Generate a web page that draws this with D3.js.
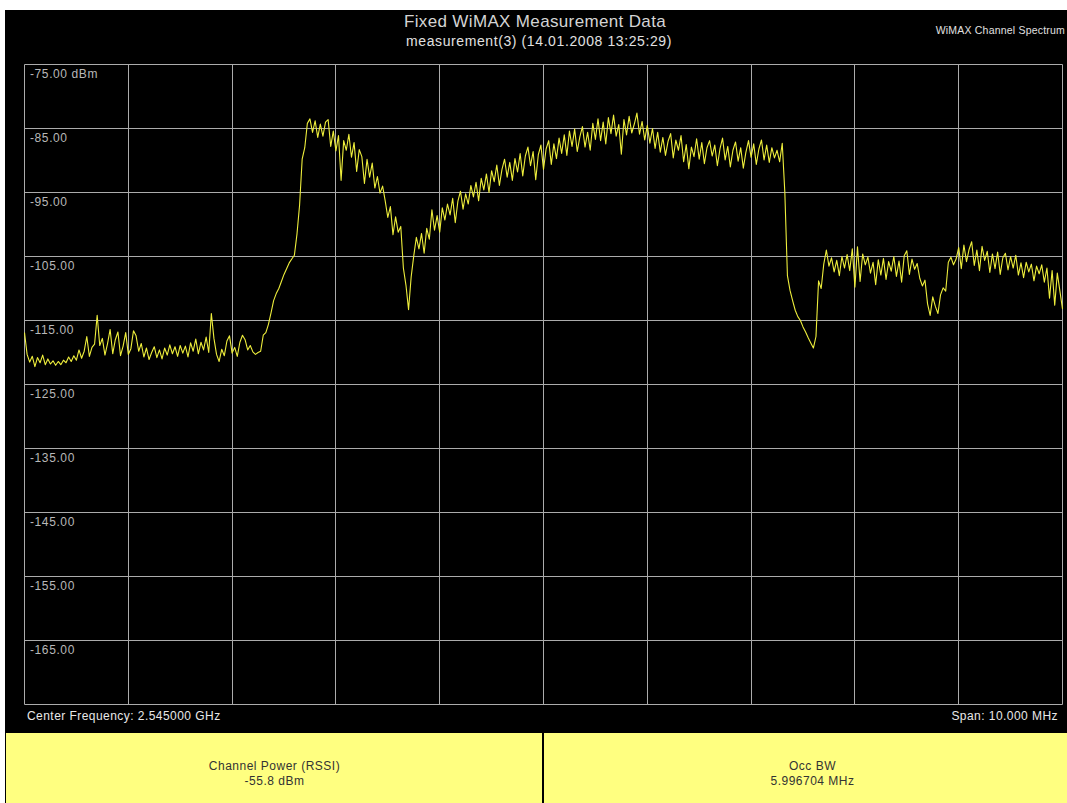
<!DOCTYPE html>
<html>
<head>
<meta charset="utf-8">
<script src="https://cdn.jsdelivr.net/npm/d3@7"></script>
<style>
  html, body { margin: 0; padding: 0; background: #ffffff; }
  svg { display: block; }
  text { font-family: "Liberation Sans", Arial, sans-serif; }
</style>
</head>
<body>
<svg id="chart" width="1067" height="803"></svg>
<script>
// Sweep settings
const centerFreqMHz = 2545;
const spanMHz = 10;

// Reference level and grid rows (dBm)
const levelTicks = [-75, -85, -95, -105, -115, -125, -135, -145, -155, -165, -175];
const levelLabels = ["-75.00 dBm", "-85.00", "-95.00", "-105.00", "-115.00", "-125.00",
                     "-135.00", "-145.00", "-155.00", "-165.00"];

// Measured trace, dBm, 401 sweep points across the span
const traceDbm = [
  -116.9,-120.3,-121.5,-120.6,-122.2,-120.8,-121.6,-120.4,-121.9,-121.0,
  -121.8,-121.3,-122.0,-121.4,-121.9,-121.2,-121.6,-120.7,-121.4,-120.5,
  -121.2,-119.6,-120.9,-119.8,-117.5,-120.6,-119.2,-118.7,-114.2,-118.9,
  -117.8,-120.4,-118.6,-116.4,-120.2,-118.0,-116.8,-120.5,-119.0,-116.9,
  -120.3,-119.4,-116.6,-117.4,-119.8,-118.6,-120.7,-119.3,-121.1,-120.0,
  -119.1,-120.8,-119.6,-121.0,-119.3,-120.4,-118.8,-120.2,-119.1,-120.6,
  -118.9,-120.1,-119.0,-120.7,-118.5,-119.8,-117.9,-120.2,-118.4,-119.6,
  -117.6,-120.0,-113.9,-117.8,-120.3,-121.4,-119.5,-120.5,-118.2,-117.4,
  -120.1,-119.2,-120.6,-118.4,-117.3,-118.0,-119.6,-118.9,-119.9,-120.3,
  -120.0,-119.8,-117.3,-116.9,-115.6,-113.8,-111.9,-110.8,-110.0,-108.9,
  -107.8,-106.9,-106.0,-105.4,-104.8,-101.5,-97.0,-89.8,-88.0,-84.2,
  -83.5,-85.6,-83.8,-86.4,-84.3,-86.2,-84.0,-83.6,-87.8,-85.4,
  -88.5,-86.1,-93.1,-86.9,-88.4,-85.9,-89.5,-87.2,-91.7,-88.3,
  -89.4,-93.6,-89.8,-92.6,-90.4,-94.3,-92.5,-95.1,-94.0,-96.3,
  -98.9,-97.2,-101.6,-98.8,-101.2,-100.3,-106.8,-109.5,-113.3,-108.2,
  -104.9,-102.0,-103.8,-101.4,-104.5,-100.6,-102.3,-97.7,-100.9,-98.6,
  -101.2,-97.4,-99.3,-96.8,-98.5,-95.9,-99.7,-96.4,-94.8,-97.6,
  -95.2,-96.8,-93.9,-95.7,-93.4,-96.3,-92.8,-94.6,-92.1,-95.0,
  -91.6,-93.3,-90.7,-93.9,-91.4,-89.8,-92.6,-90.3,-93.1,-89.7,
  -91.8,-88.9,-92.4,-89.3,-87.9,-90.8,-88.6,-93.0,-89.1,-87.6,
  -91.4,-88.2,-86.9,-90.6,-87.4,-89.7,-86.5,-88.9,-86.0,-89.2,
  -85.4,-87.8,-85.1,-88.6,-86.3,-84.7,-87.9,-85.6,-88.4,-84.2,
  -86.7,-83.5,-86.9,-84.0,-87.4,-83.3,-85.8,-82.9,-86.2,-84.4,
  -89.0,-83.6,-86.0,-83.1,-85.7,-84.3,-82.6,-85.9,-83.9,-86.8,
  -84.5,-87.3,-85.0,-88.1,-85.6,-88.7,-86.4,-89.2,-87.0,-85.8,
  -89.6,-86.8,-88.4,-86.1,-90.2,-87.5,-91.3,-87.9,-89.4,-86.6,
  -89.8,-87.2,-90.5,-88.0,-86.9,-89.3,-87.6,-90.8,-88.2,-86.5,
  -89.9,-87.8,-91.0,-88.4,-87.1,-90.1,-88.0,-91.2,-88.7,-86.9,
  -89.5,-87.4,-90.6,-88.2,-86.8,-89.9,-87.6,-90.3,-88.0,-89.6,
  -88.4,-90.2,-87.3,-95.0,-108.0,-110.3,-111.9,-113.4,-114.4,-115.0,
  -116.0,-116.8,-117.7,-118.5,-119.3,-117.5,-108.8,-110.0,-106.2,-104.0,
  -106.5,-105.2,-107.4,-105.6,-108.0,-105.0,-106.8,-104.7,-107.2,-103.8,
  -109.8,-103.5,-108.9,-104.6,-106.3,-105.1,-107.6,-105.9,-109.4,-105.5,
  -107.9,-105.3,-108.6,-105.8,-107.3,-105.0,-108.1,-105.7,-109.0,-104.9,
  -104.1,-107.8,-105.4,-107.0,-106.1,-108.4,-109.6,-108.7,-112.4,-114.2,
  -111.3,-112.8,-113.9,-111.0,-109.9,-110.4,-105.9,-105.1,-106.3,-105.4,
  -103.6,-106.9,-103.2,-105.8,-103.9,-102.7,-106.4,-104.0,-107.2,-103.4,
  -105.6,-104.2,-107.5,-104.6,-106.9,-104.3,-107.8,-105.2,-104.5,-107.1,
  -105.0,-106.8,-104.8,-107.9,-106.0,-108.3,-105.9,-107.4,-106.2,-108.8,
  -106.5,-107.7,-106.3,-109.0,-106.8,-111.5,-107.2,-112.6,-107.6,-110.4,
  -113.2
];

// Result panels below the trace
const resultNames = ["Channel Power (RSSI)", "Occ BW"];
const resultValues = ["-55.8 dBm", "5.996704 MHz"];

const svg = d3.select("#chart");
const W = 1067, H = 803;

const plot = { left: 24.5, right: 1062.5, top: 64.5, bottom: 704.5 };
const startFreq = centerFreqMHz - spanMHz / 2;
const stopFreq = centerFreqMHz + spanMHz / 2;

const x = d3.scaleLinear().domain([startFreq, stopFreq]).range([plot.left, plot.right]);
const y = d3.scaleLinear().domain([-175, -75]).range([plot.bottom, plot.top]);
const freqStep = spanMHz / (traceDbm.length - 1);

// Instrument screen background
svg.append("rect").attr("x", 5).attr("y", 10).attr("width", W - 5).attr("height", 723).attr("fill", "#000");

// Titles
svg.append("text").attr("x", 535).attr("y", 27).attr("text-anchor", "middle")
  .attr("font-size", 17).attr("letter-spacing", 0.35).attr("fill", "#d4d4d4").text("Fixed WiMAX Measurement Data");
svg.append("text").attr("x", 539).attr("y", 46).attr("text-anchor", "middle")
  .attr("font-size", 14).attr("letter-spacing", 0.6).attr("fill", "#e0e0e0").text("measurement(3) (14.01.2008 13:25:29)");
svg.append("text").attr("x", 1065).attr("y", 34).attr("text-anchor", "end")
  .attr("font-size", 10.5).attr("letter-spacing", 0.2).attr("fill", "#e0e0e0").text("WiMAX Channel Spectrum");

// Grid
const gridColor = "#ababab";
const grid = svg.append("g");
const freqTicks = d3.range(0, 11).map(k => startFreq + k * spanMHz / 10);
grid.selectAll("line.v").data(freqTicks).join("line")
  .attr("x1", d => Math.round(x(d) - 0.5) + 0.5).attr("x2", d => Math.round(x(d) - 0.5) + 0.5)
  .attr("y1", plot.top).attr("y2", plot.bottom)
  .attr("stroke", gridColor).attr("stroke-width", 1);
grid.selectAll("line.h").data(levelTicks).join("line")
  .attr("y1", d => Math.round(y(d) - 0.5) + 0.5).attr("y2", d => Math.round(y(d) - 0.5) + 0.5)
  .attr("x1", plot.left).attr("x2", plot.right)
  .attr("stroke", gridColor).attr("stroke-width", 1);

// Level labels, written just under each grid row
svg.append("g").selectAll("text").data(levelLabels).join("text")
  .attr("x", 30).attr("y", (d, i) => y(levelTicks[i]) + 13)
  .attr("font-size", 12).attr("letter-spacing", 0.6).attr("fill", "#b8b8b8").text(d => d);

// Trace
const line = d3.line()
  .x((d, i) => x(startFreq + i * freqStep))
  .y(d => y(d));
svg.append("path").datum(traceDbm)
  .attr("d", line).attr("fill", "none")
  .attr("stroke", "#eeee3c").attr("stroke-width", 1.1).attr("stroke-linejoin", "round");

// Footer of the plot
svg.append("text").attr("x", 27).attr("y", 720)
  .attr("font-size", 12).attr("letter-spacing", 0.45).attr("fill", "#e8e8e8")
  .text("Center Frequency: " + (centerFreqMHz / 1000).toFixed(6) + " GHz");
svg.append("text").attr("x", 1058).attr("y", 720).attr("text-anchor", "end")
  .attr("font-size", 12).attr("letter-spacing", 0.45).attr("fill", "#e8e8e8")
  .text("Span: " + spanMHz.toFixed(3) + " MHz");

// Result panels
const panelTop = 733;
const panelX = [6, 544];
const panelW = [537, 537];
resultNames.forEach((name, i) => {
  svg.append("rect").attr("x", panelX[i]).attr("y", panelTop)
    .attr("width", panelW[i]).attr("height", H - panelTop).attr("fill", "#ffff80");
  const cx = panelX[i] + panelW[i] / 2;
  svg.append("text").attr("x", cx).attr("y", 770).attr("text-anchor", "middle")
    .attr("font-size", 12).attr("letter-spacing", 0.5).attr("fill", "#333").text(name);
  svg.append("text").attr("x", cx).attr("y", 785).attr("text-anchor", "middle")
    .attr("font-size", 12).attr("letter-spacing", 0.5).attr("fill", "#333").text(resultValues[i]);
});
// Black left edge and panel divider
svg.append("rect").attr("x", 5).attr("y", panelTop).attr("width", 1).attr("height", H - panelTop).attr("fill", "#000");
svg.append("rect").attr("x", 542).attr("y", panelTop).attr("width", 2).attr("height", H - panelTop).attr("fill", "#000");
</script>
</body>
</html>
